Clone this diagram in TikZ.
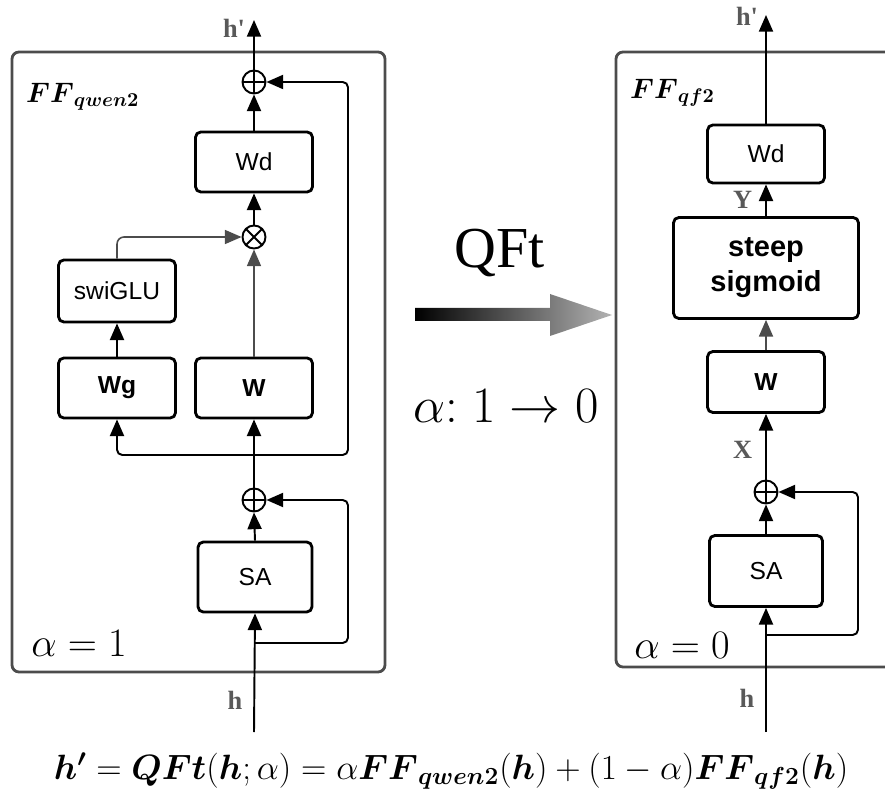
\RequirePackage{fix-cm}
\documentclass[tikz,border=0pt]{standalone}
\usepackage{amsmath,amssymb}
\usepackage{fontspec}
\newfontfamily\boxfont{Liberation Sans}
\newfontfamily\lblfont{Liberation Serif}
\usetikzlibrary{calc, arrows.meta, positioning}

\begin{document}
\begin{tikzpicture}[x=0.02cm, y=-0.02cm,
    blk/.style={draw, line width=1.6pt, rounded corners=3pt, minimum width=2.34cm, minimum height=1.2cm, font=\boxfont\fontsize{14}{16}\selectfont},
    opnode/.style={circle, draw, line width=1.1pt, minimum size=0.46cm, inner sep=0pt},
    addop/.style={opnode, path picture={\draw[line width=1.1pt] (path picture bounding box.north) -- (path picture bounding box.south) (path picture bounding box.west) -- (path picture bounding box.east);}},
    mulop/.style={opnode, path picture={\draw[line width=1.1pt] (path picture bounding box.north west) -- (path picture bounding box.south east) (path picture bounding box.south west) -- (path picture bounding box.north east);}},
    arr/.style={line width=1.1pt, -{Triangle[length=9.5pt,width=8pt]}},
    garr/.style={line width=0.9pt, draw=black!70, -{Triangle[length=9.5pt,width=8pt]}},
    lbl/.style={text=black!65, font=\lblfont\bfseries\fontsize{15}{17}\selectfont},
    frame/.style={draw=black!70, line width=1.6pt, rounded corners=4pt}]
  \useasboundingbox (0,0) rectangle (885,803);

  % left: FF_qwen2
  \draw[frame] (12,52) rectangle (385,672);
  \node[anchor=west, font=\fontsize{16}{18}\selectfont] (ffq) at (20,97) {$\boldsymbol{FF}_{\boldsymbol{qwen2}}$};
  \node[font=\fontsize{23}{26}\selectfont] (alpha1) at (79,643) {$\alpha = 1$};

  \node[blk] (wdL) at (254,162) {Wd};
  \node[blk, minimum height=1.24cm] (swiglu) at (117,291) {swiGLU};
  \node[blk, font=\boxfont\bfseries\fontsize{14}{16}\selectfont] (wg) at (117,388) {Wg};
  \node[blk, font=\boxfont\bfseries\fontsize{14}{16}\selectfont] (wL) at (254,388) {W};
  \node[blk, minimum width=2.28cm, minimum height=1.4cm] (saL) at (255,577) {SA};
  \node[addop] (plusA) at (254,82) {};
  \node[mulop] (times) at (254,237) {};
  \node[addop] (plusB) at (254,500) {};

  \coordinate (inL) at (254,732);
  \coordinate (outL) at (254,20);
  \coordinate (splitL) at (254,643);
  \coordinate (branchL) at (254,455);
  \node[lbl] (hinL) at (235,700) {h};
  \node[lbl] (houtL) at (234,28) {h'};

  \draw[arr] (inL) -- (saL.south);
  \draw[arr, rounded corners=3pt] (splitL) -- ++(94,0) |- (plusB.east);
  \draw[arr] (saL.north) -- (plusB.south);
  \draw[arr] (plusB.north) -- (wL.south);
  \draw[arr, rounded corners=3pt] (branchL) -| (wg.south);
  \draw[arr, rounded corners=3pt] (branchL) -- ++(94,0) |- (plusA.east);
  \draw[arr] (wg.north) -- (swiglu.south);
  \draw[garr, rounded corners=4pt] (swiglu.north) |- (times.west);
  \draw[garr] (wL.north) -- (times.south);
  \draw[arr] (times.north) -- (wdL.south);
  \draw[arr] (wdL.north) -- (plusA.south);
  \draw[arr] (plusA.north) -- (outL);

  % middle
  \node[font=\lblfont\fontsize{33}{36}\selectfont] (qft) at (500,253) {QFt};
  \shade[left color=black, right color=black!30] (415,308) -- (550,308) -- (550,294) -- (612,315) -- (550,336) -- (550,321) -- (415,321) -- cycle;
  \node[font=\fontsize{29}{32}\selectfont] (sched) at (506,406) {$\alpha{:}\;1 \rightarrow 0$};

  % right: FF_qf2
  \draw[frame] (900,52) -- (616,52) -- (616,667) -- (900,667);
  \node[anchor=west, font=\fontsize{16}{18}\selectfont] (ffqf) at (624,93) {$\boldsymbol{FF}_{\boldsymbol{qf2}}$};
  \node[font=\fontsize{23}{26}\selectfont] (alpha0) at (682,645) {$\alpha = 0$};

  \node[blk, minimum height=1.16cm] (wdR) at (766,154) {Wd};
  \node[blk, minimum width=3.7cm, minimum height=2.02cm, align=center, font=\boxfont\bfseries\fontsize{16.5}{20}\selectfont] (steep) at (766,268) {steep\\sigmoid};
  \node[blk, minimum height=1.22cm, font=\boxfont\bfseries\fontsize{14}{16}\selectfont] (wR) at (766,382) {W};
  \node[blk, minimum width=2.26cm, minimum height=1.42cm] (saR) at (766,571) {SA};
  \node[addop] (plusC) at (766,492) {};

  \coordinate (inR) at (766,732);
  \coordinate (outR) at (766,15);
  \coordinate (splitR) at (766,635);
  \node[lbl] (hinR) at (747,698) {h};
  \node[lbl] (houtR) at (747,16) {h'};

  \draw[arr] (inR) -- (saR.south);
  \draw[arr, rounded corners=3pt] (splitR) -- ++(92,0) |- (plusC.east);
  \draw[arr] (saR.north) -- (plusC.south);
  \draw[arr] (plusC.north) -- node[lbl, pos=0.45, left=4pt] (xlbl) {X} (wR.south);
  \draw[garr] (wR.north) -- (steep.south);
  \draw[arr] (steep.north) -- node[lbl, left=4pt] (ylbl) {Y} (wdR.south);
  \draw[arr] (wdR.north) -- (outR);

  % formula
  \node[font=\fontsize{20}{24}\selectfont] (eqn) at (451,771) {$\boldsymbol{h'} = \boldsymbol{QFt}(\boldsymbol{h};\alpha) = \alpha\boldsymbol{FF}_{\boldsymbol{qwen2}}(\boldsymbol{h}) + (1-\alpha)\boldsymbol{FF}_{\boldsymbol{qf2}}(\boldsymbol{h})$};
\end{tikzpicture}
\end{document}
